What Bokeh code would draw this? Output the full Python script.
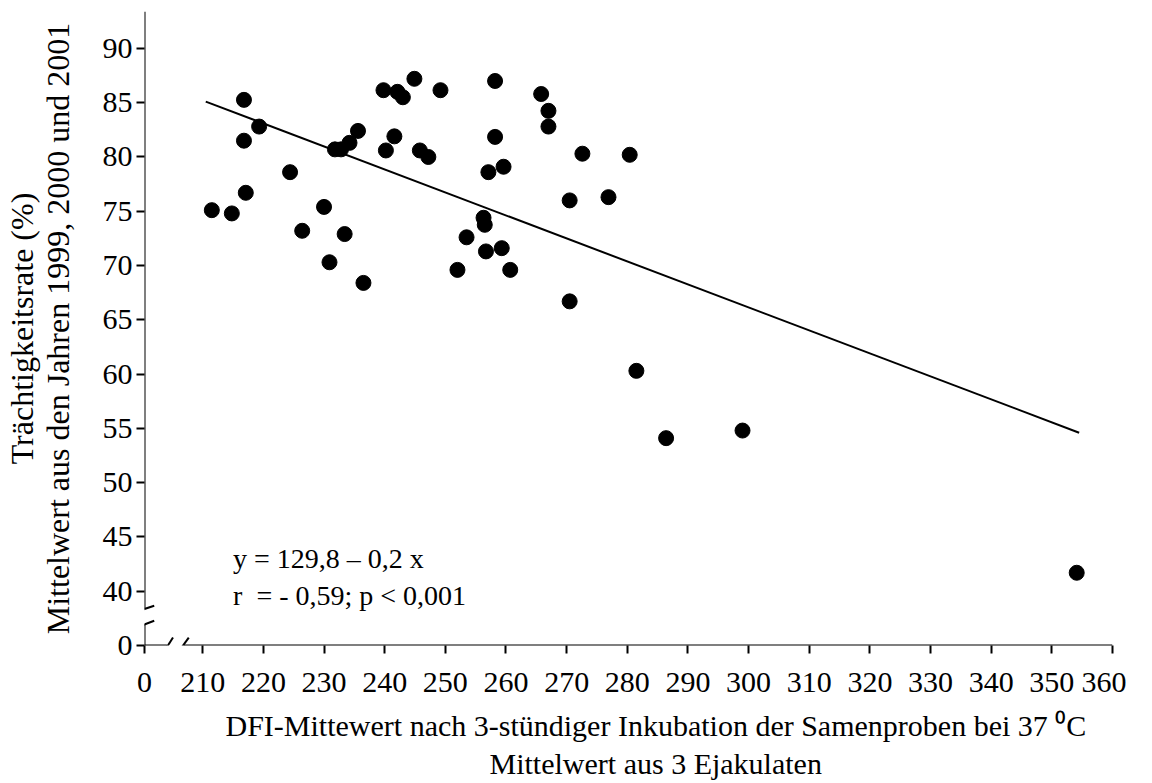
from bokeh.plotting import figure
from bokeh.models import FixedTicker, Label, Arrow, Range1d, CustomJSTickFormatter, Title
from bokeh.embed import file_html
from bokeh.resources import INLINE

# ---- data ----
dfi = [211.5, 214.8, 216.8, 216.8, 217.1, 219.3, 224.4, 226.4, 230.0, 230.9,
       231.8, 232.8, 233.4, 234.2, 235.6, 236.5, 239.8, 240.2, 241.6, 242.1,
       243.0, 244.9, 245.8, 247.2, 249.2, 252.0, 253.5, 256.3, 256.5, 256.7,
       257.1, 258.2, 258.2, 259.3, 259.6, 260.7, 265.8, 267.0, 267.0, 270.5,
       270.5, 272.6, 276.9, 280.4, 281.5, 286.4, 299.0, 354.1]
rate = [75.1, 74.8, 85.26, 81.5, 76.7, 82.8, 78.6, 73.2, 75.4, 70.3,
        80.7, 80.7, 72.9, 81.3, 82.4, 68.4, 86.15, 80.6, 81.9, 86.0,
        85.5, 87.2, 80.6, 80.0, 86.15, 69.6, 72.6, 74.4, 73.75, 71.3,
        78.6, 87.0, 81.85, 71.6, 79.1, 69.6, 85.8, 84.25, 82.8, 76.0,
        66.7, 80.3, 76.3, 80.2, 60.3, 54.1, 54.8, 41.7]

# regression line end points
reg_x = [210.5, 354.5]
reg_y = [85.1, 54.6]

x_ticks = [210, 220, 230, 240, 250, 260, 270, 280, 290, 300, 310, 320, 330, 340, 350, 360]
y_ticks = [40, 45, 50, 55, 60, 65, 70, 75, 80, 85, 90]

eq_text = "y = 129,8 \u2013 0,2 x"
stat_text = "r \u00a0= - 0,59; p < 0,001"
y_title = "Tr\u00e4chtigkeitsrate (%)\nMittelwert aus den Jahren 1999, 2000 und 2001"
x_title_1 = "DFI-Mittewert nach 3-st\u00fcndiger Inkubation der Samenproben bei 37 \u2070C"
x_title_2 = "Mittelwert aus 3 Ejakulaten"

# broken-axis layout: where the "0" tick sits on each axis
X0 = 200.4
Y0 = 35.0
X_END = 360.0
Y_END = 93.4

FONT = "Liberation Serif"

p = figure(frame_width=968, frame_height=634,
           x_range=Range1d(X0, X_END), y_range=Range1d(Y0, Y_END),
           output_backend="svg", toolbar_location=None,
           min_border_left=144, min_border_top=11, min_border_right=14,
           min_border_bottom=138)
p.xgrid.visible = False
p.ygrid.visible = False
p.outline_line_color = None
p.background_fill_color = "white"
p.border_fill_color = "white"

for ax in (p.xaxis[0], p.yaxis[0]):
    ax.axis_line_color = None
    ax.major_tick_out = 8
    ax.major_tick_in = 0
    ax.minor_tick_out = 0
    ax.minor_tick_in = 0
    ax.major_tick_line_width = 2
    ax.major_tick_line_color = "black"
    ax.major_label_text_font = FONT
    ax.major_label_text_font_size = "30px"
    ax.major_label_text_color = "black"

p.xaxis.ticker = FixedTicker(ticks=[X0] + x_ticks)
p.xaxis.formatter = CustomJSTickFormatter(code="return tick < 205 ? '0' : tick.toFixed(0);")
p.xaxis.major_label_standoff = 19

p.yaxis.ticker = FixedTicker(ticks=[Y0] + y_ticks)
p.yaxis.formatter = CustomJSTickFormatter(code="return tick < 38 ? '0' : tick.toFixed(0);")
p.yaxis.major_label_standoff = 4
p.yaxis.axis_label = y_title
p.yaxis.axis_label_text_font = FONT
p.yaxis.axis_label_text_font_size = "32px"
p.yaxis.axis_label_text_font_style = "normal"
p.yaxis.axis_label_text_color = "black"
p.yaxis.axis_label_text_line_height = 1.0
p.yaxis.axis_label_standoff = 24

# data
p.line(reg_x, reg_y, line_width=2, line_color="black")
p.scatter(dfi, rate, size=15, fill_color="black", line_color="black")


def seg(x0, y0, x1, y1):
    p.add_layout(Arrow(end=None, x_start=x0, y_start=y0, x_end=x1, y_end=y1,
                       line_width=2, line_color="black"))


# axis lines with breaks
seg(X0, Y_END, X0, 38.4)
seg(X0, 36.95, X0, Y0)
seg(X0, Y0, 204.1, Y0)
seg(206.9, Y0, X_END, Y0)
# break marks
seg(199.0, 38.11, 202.0, 38.66)
seg(199.0, 36.64, 202.0, 37.28)
seg(203.5, 34.34, 205.1, 35.73)
seg(205.9, 34.34, 207.7, 35.73)

# annotation texts
p.add_layout(Label(x=215.0, y=43.0, text=eq_text, text_font=FONT,
                   text_font_size="28px", text_color="black", text_baseline="alphabetic"))
p.add_layout(Label(x=215.0, y=39.6, text=stat_text, text_font=FONT,
                   text_font_size="28px", text_color="black", text_baseline="alphabetic"))

# x-axis title (two lines below the axis, centred at the same point)
for txt, off, so in ((x_title_1, 81, 24), (x_title_2, 345, -18)):
    t = Title(text=txt, align="left", offset=off, standoff=so,
              text_font=FONT, text_font_size="30px", text_font_style="normal",
              text_color="black")
    p.add_layout(t, "below")

open("out.html", "w").write(file_html(p, INLINE))
